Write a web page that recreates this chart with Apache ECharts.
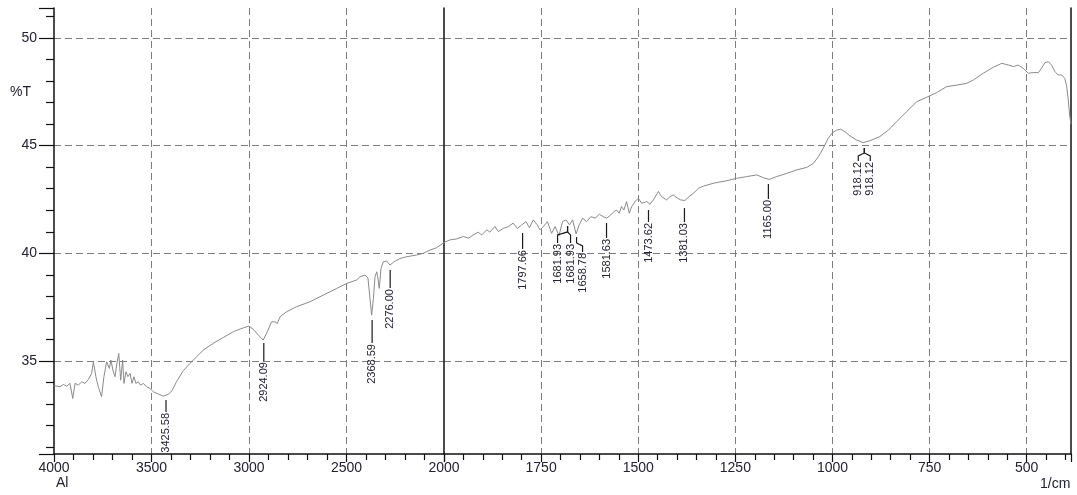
<!DOCTYPE html>
<html><head><meta charset="utf-8">
<script src="https://cdn.jsdelivr.net/npm/echarts@6/dist/echarts.min.js"></script>
<style>html,body{margin:0;padding:0;background:#fff}#c{width:1077px;height:495px}</style>
</head><body><div id="c"></div>
<script>
// Spectrum, high wavenumber section (4000 -> 2000 1/cm)
const waveHigh = [4000,3995,3969,3952,3935,3918,3904,3892,3875,3858,3841,3824,3807,3798,3785,3773,3756,3744,3730,3716,3708,3696,3687,3679,3668,3658,3648,3641,3631,3621,3610,3600,3590,3580,3568,3556,3542,3525,3508,3491,3465,3439,3414,3395,3371,3337,3302,3268,3234,3183,3132,3080,3029,3000,2978,2952,2927,2906,2884,2867,2855,2841,2807,2756,2687,2619,2550,2499,2448,2431,2405,2390,2383,2371,2362,2354,2345,2340,2332,2323,2311,2294,2277,2256,2226,2192,2140,2106,2072,2038,2000];
const transHigh = [33.86,33.85,33.80,33.91,33.83,33.96,33.26,33.96,33.88,34.03,33.96,34.14,34.42,34.96,34.27,33.80,33.34,34.27,34.96,34.65,35.04,34.50,34.27,34.81,35.35,34.11,35.04,33.96,34.50,34.27,34.42,33.96,34.27,33.96,34.03,33.88,33.96,33.80,33.73,33.57,33.46,33.37,33.45,33.62,34.05,34.55,34.89,35.20,35.51,35.82,36.09,36.36,36.54,36.62,36.47,36.20,35.97,36.36,36.82,36.82,36.74,37.05,37.29,37.52,37.75,38.06,38.37,38.60,38.76,38.91,38.99,38.85,38.76,37.13,37.90,38.91,39.14,38.91,38.37,39.30,39.61,39.64,39.45,39.61,39.76,39.84,39.92,40.00,40.15,40.26,40.50];
// Spectrum, low wavenumber section (2000 -> 386 1/cm)
const waveLow = [2000,1985,1967,1950,1937,1925,1912,1903,1890,1882,1869,1860,1847,1834,1822,1811,1800,1789,1780,1770,1760,1753,1744,1734,1723,1714,1704,1695,1686,1677,1669,1660,1652,1643,1633,1622,1611,1600,1590,1581,1571,1562,1556,1549,1543,1537,1530,1523,1517,1508,1500,1491,1478,1470,1461,1448,1440,1427,1418,1410,1399,1391,1380,1368,1358,1345,1332,1307,1272,1247,1221,1195,1178,1163,1144,1118,1092,1066,1049,1036,1024,1011,1000,989,979,968,955,938,921,903,878,856,835,809,783,758,732,706,680,655,637,612,586,564,547,534,522,509,496,483,470,462,453,444,436,427,419,410,402,397,393,389,386];
const transLow = [40.50,40.62,40.67,40.78,40.70,40.85,40.98,40.85,41.09,40.98,41.24,41.01,41.16,41.24,41.40,41.16,41.32,41.47,41.19,41.55,41.32,41.09,41.24,41.47,40.93,41.24,40.82,41.47,41.55,41.32,41.55,40.90,41.32,41.63,41.47,41.70,41.63,41.81,41.70,41.63,41.78,41.94,42.01,41.86,42.17,42.01,42.40,41.86,42.17,42.40,42.56,42.32,42.40,42.28,42.48,42.87,42.63,42.48,42.63,42.71,42.56,42.48,42.45,42.65,42.78,43.02,43.12,43.25,43.37,43.48,43.56,43.64,43.51,43.43,43.56,43.71,43.87,43.99,44.18,44.49,44.87,45.34,45.60,45.72,45.76,45.65,45.45,45.26,45.14,45.23,45.42,45.72,46.11,46.58,47.04,47.24,47.46,47.74,47.81,47.89,48.05,48.36,48.64,48.82,48.74,48.67,48.74,48.59,48.36,48.39,48.39,48.59,48.85,48.90,48.74,48.43,48.28,48.28,48.12,47.74,47.12,46.34,46.00];
// Peak picks
const peakWaves  = [3425.58,2924.09,2368.59,2276.00,1797.66,1681.93,1681.93,1658.78,1581.63,1473.62,1381.03,1165.00,918.12,918.12];
const peakLabels = ['3425.58','2924.09','2368.59','2276.00','1797.66','1681.93','1681.93','1658.78','1581.63','1473.62','1381.03','1165.00','918.12','918.12'];
const peakTops   = [33.19,35.83,36.90,39.22,40.94,41.27,41.27,40.76,41.41,42.01,42.10,43.22,44.89,44.89];
// Tick labels
const yTicks = [35,40,45,50];
const xTicksHigh = [4000,3500,3000,2500,2000];
const xTicksLow = [1750,1500,1250,1000,750,500];

// layout of the pick markers (pixels)
const peakLayout = [
  {stem:12,shift:0,drop:0},{stem:18,shift:0,drop:0},{stem:23,shift:0,drop:0},{stem:18,shift:0,drop:0},
  {stem:16,shift:0,drop:0},{stem:6,shift:-10,drop:8},{stem:6,shift:3,drop:8},{stem:6,shift:6,drop:6},
  {stem:15,shift:0,drop:0},{stem:12,shift:0,drop:0},{stem:14,shift:0,drop:0},{stem:15,shift:0,drop:0},
  {stem:5,shift:-6,drop:5},{stem:5,shift:6,drop:5}
];

const Y_MIN = 30.68, Y_MAX = 51.39;
const textColor = '#222233';
const dash = {color:'#7d7d7d', type:[7,4], width:1};
const labelFont = {color:textColor, fontSize:14, fontFamily:'Liberation Sans, Arial, sans-serif'};

function pickRender(params, api){
  const idx = api.value(2);
  const lay = peakLayout[idx];
  const p = api.coord([api.value(0), api.value(1)]);
  const x0 = p[0], y0 = p[1];
  let pts;
  if (lay.shift === 0) pts = [[x0,y0],[x0,y0+lay.stem]];
  else pts = [[x0,y0],[x0,y0+lay.stem],[x0+lay.shift,y0+lay.stem+3],[x0+lay.shift,y0+lay.stem+3+lay.drop]];
  const end = pts[pts.length-1];
  return {type:'group', children:[
    {type:'polyline', shape:{points:pts}, style:{stroke:'#1a1a1a', lineWidth:1.2, fill:null}},
    {type:'text', x:end[0], y:end[1]+1, rotation:Math.PI/2,
     style:{text:peakLabels[idx], fill:textColor, font:'11px "Liberation Sans Narrow", "Arial Narrow", sans-serif', align:'right', verticalAlign:'middle'}}
  ]};
}

const picksHigh = [], picksLow = [];
peakWaves.forEach((w,i)=>{ (w>2000?picksHigh:picksLow).push([w, peakTops[i], i]); });

const option = {
  animation:false,
  backgroundColor:'#fff',
  grid:[
    {left:54, top:8, width:390, height:446},
    {left:444, top:8, width:627, height:446}
  ],
  xAxis:[
    {type:'value', gridIndex:0, min:2000, max:4000, interval:500, inverse:true,
     axisLine:{lineStyle:{color:'#111', width:1.5}},
     axisTick:{length:8, lineStyle:{color:'#111', width:1.2}},
     minorTick:{show:true, splitNumber:5, length:6, lineStyle:{color:'#111', width:1.2}},
     axisLabel:{...labelFont, margin:7, formatter:v=> xTicksHigh.includes(v)? String(v):''},
     splitLine:{show:true, showMinLine:false, showMaxLine:false, lineStyle:dash}},
    {type:'value', gridIndex:1, min:386, max:2000, minInterval:250, maxInterval:250, inverse:true,
     axisLine:{lineStyle:{color:'#111', width:1.5}},
     axisTick:{length:8, lineStyle:{color:'#111', width:1.2}},
     minorTick:{show:true, splitNumber:5, length:6, lineStyle:{color:'#111', width:1.2}},
     axisLabel:{...labelFont, margin:7, showMinLabel:false, showMaxLabel:false, formatter:v=> xTicksLow.includes(v)? String(v):''},
     splitLine:{show:true, showMinLine:false, showMaxLine:false, lineStyle:dash}}
  ],
  yAxis:[
    {type:'value', gridIndex:0, min:Y_MIN, max:Y_MAX, minInterval:5, maxInterval:5,
     axisLine:{show:true, lineStyle:{color:'#111', width:1.5}},
     axisTick:{show:true, length:15, lineStyle:{color:'#111', width:1.2}},
     minorTick:{show:true, splitNumber:5, length:8, lineStyle:{color:'#111', width:1.2}},
     axisLabel:{...labelFont, margin:17, formatter:v=> yTicks.includes(v)? String(v):''},
     splitLine:{show:true, showMinLine:false, showMaxLine:false, lineStyle:dash}},
    {type:'value', gridIndex:1, min:Y_MIN, max:Y_MAX, minInterval:5, maxInterval:5,
     axisLine:{show:true, lineStyle:{color:'#111', width:1.5}},
     axisTick:{show:false}, axisLabel:{show:false},
     splitLine:{show:true, showMinLine:false, showMaxLine:false, lineStyle:dash}},
    {type:'value', gridIndex:1, position:'right', min:Y_MIN, max:Y_MAX,
     axisLine:{show:true, lineStyle:{color:'#111', width:1.5}},
     axisTick:{show:false}, axisLabel:{show:false}, splitLine:{show:false}}
  ],
  graphic:[
    {type:'text', left:10, top:85, style:{text:'%T', fill:textColor, font:'14px "Liberation Sans", Arial, sans-serif'}},
    {type:'text', left:56, top:476, style:{text:'Al', fill:textColor, font:'14px "Liberation Sans", Arial, sans-serif'}},
    {type:'text', left:1040, top:477, style:{text:'1/cm', fill:textColor, font:'14px "Liberation Sans", Arial, sans-serif'}}
  ],
  series:[
    {type:'line', xAxisIndex:0, yAxisIndex:0, showSymbol:false, symbol:'none',
     lineStyle:{color:'#8a8a8a', width:1}, data:waveHigh.map((w,i)=>[w,transHigh[i]])},
    {type:'line', xAxisIndex:1, yAxisIndex:1, showSymbol:false, symbol:'none',
     lineStyle:{color:'#8a8a8a', width:1}, data:waveLow.map((w,i)=>[w,transLow[i]])},
    {type:'custom', xAxisIndex:0, yAxisIndex:0, clip:false, renderItem:pickRender, data:picksHigh, z:5},
    {type:'custom', xAxisIndex:1, yAxisIndex:1, clip:false, renderItem:pickRender, data:picksLow, z:5}
  ]
};
const chart = echarts.init(document.getElementById('c'), null, {renderer:'canvas'});
chart.setOption(option);
</script></body></html>
